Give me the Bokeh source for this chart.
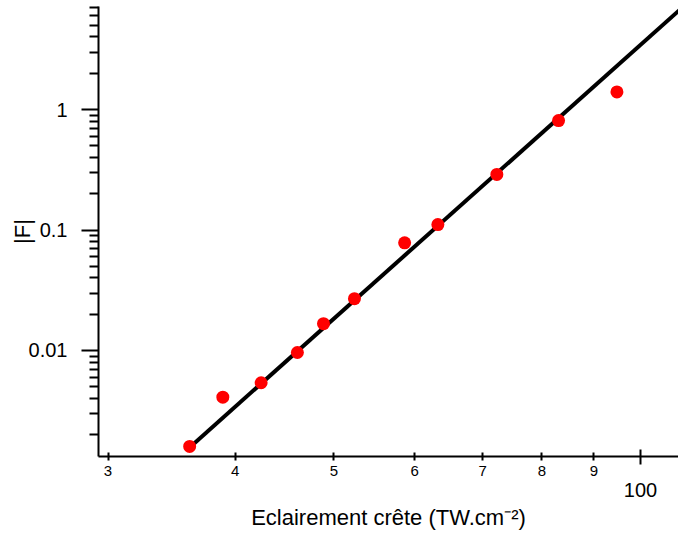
from bokeh.plotting import figure
from bokeh.models import Range1d, LogAxis, FixedTicker, ColumnDataSource
from bokeh.embed import file_html
from bokeh.resources import INLINE

# --- data ---
intensity = [36.08, 38.89, 42.41, 46.03, 48.83, 52.37, 58.66, 63.24, 72.26, 83.08, 94.80]
F_abs = [0.00160, 0.00410, 0.00540, 0.00962, 0.0167, 0.0269, 0.0783, 0.111, 0.289, 0.810, 1.40]

# power-law fit line (endpoints)
fit_x = [36.08, 110.0]
fit_y = [0.00157, 7.06]

# ticks / labels
x_ticks = [30, 40, 50, 60, 70, 80, 90]
x_tick_labels = ["3", "4", "5", "6", "7", "8", "9"]
x_big_ticks = [100]
x_big_labels = ["100"]
y_ticks = [0.01, 0.1, 1]
y_tick_labels = ["0.01", "0.1", "1"]
y_minor = [m * 10.0 ** e for e in (-3, -2, -1, 0) for m in range(2, 10) if m * 10.0 ** e < 7.1]

FONT = "Liberation Sans"

p = figure(width=678, height=536, x_axis_type="log", y_axis_type="log",
           x_range=Range1d(29.36, 108.96), y_range=Range1d(0.001319, 7.16),
           output_backend="svg", toolbar_location=None,
           min_border_left=98, min_border_right=0, min_border_top=6, min_border_bottom=80)
p.outline_line_color = None
p.grid.visible = False
p.background_fill_color = "white"
p.border_fill_color = "white"

src = ColumnDataSource(dict(x=intensity, y=F_abs))
fit = ColumnDataSource(dict(x=fit_x, y=fit_y))
p.line("x", "y", source=fit, line_width=4, line_color="black")
p.scatter("x", "y", source=src, size=13, fill_color="#ff0000", line_color=None)

# x axis 1 (small labels 3..9)
ax1 = p.below[0]
ax1.ticker = FixedTicker(ticks=x_ticks, minor_ticks=x_big_ticks)
ax1.major_label_overrides = dict(zip(x_ticks, x_tick_labels))
ax1.axis_line_width = 2
ax1.axis_line_color = "black"
ax1.major_tick_line_width = 2
ax1.major_tick_line_color = "black"
ax1.minor_tick_line_width = 2
ax1.minor_tick_line_color = "black"
ax1.major_tick_in = 4
ax1.major_tick_out = 4
ax1.minor_tick_in = 7
ax1.minor_tick_out = 8
ax1.major_label_standoff = 1
ax1.major_label_text_font = FONT
ax1.major_label_text_font_size = "15px"
ax1.major_label_text_color = "black"

# x axis 2 (decade label + axis title)
ax2 = LogAxis(ticker=FixedTicker(ticks=x_big_ticks),
              major_label_overrides=dict(zip(x_big_ticks, x_big_labels)),
              axis_line_color=None, major_tick_line_color=None, minor_tick_line_color=None,
              major_tick_in=0, major_tick_out=0, major_label_standoff=4,
              major_label_text_font=FONT, major_label_text_font_size="20px",
              major_label_text_color="black",
              axis_label="Eclairement crête (TW.cm⁻²)", axis_label_standoff=5,
              axis_label_text_font=FONT, axis_label_text_font_size="22px",
              axis_label_text_font_style="normal", axis_label_text_color="black")
p.add_layout(ax2, "below")

# y axis
ay = p.left[0]
ay.ticker = FixedTicker(ticks=y_ticks, minor_ticks=y_minor)
ay.major_label_overrides = dict(zip(y_ticks, y_tick_labels))
ay.axis_line_width = 2
ay.axis_line_color = "black"
ay.major_tick_line_width = 2
ay.major_tick_line_color = "black"
ay.minor_tick_line_width = 2
ay.minor_tick_line_color = "black"
ay.major_tick_in = 0
ay.major_tick_out = 17
ay.minor_tick_in = 0
ay.minor_tick_out = 9
ay.major_label_standoff = 14
ay.major_label_text_font = FONT
ay.major_label_text_font_size = "20px"
ay.major_label_text_color = "black"
ay.axis_label = "|F|"
ay.axis_label_standoff = -9
ay.axis_label_text_font = FONT
ay.axis_label_text_font_size = "22px"
ay.axis_label_text_font_style = "normal"
ay.axis_label_text_color = "black"

open("out.html", "w").write(file_html(p, INLINE))
